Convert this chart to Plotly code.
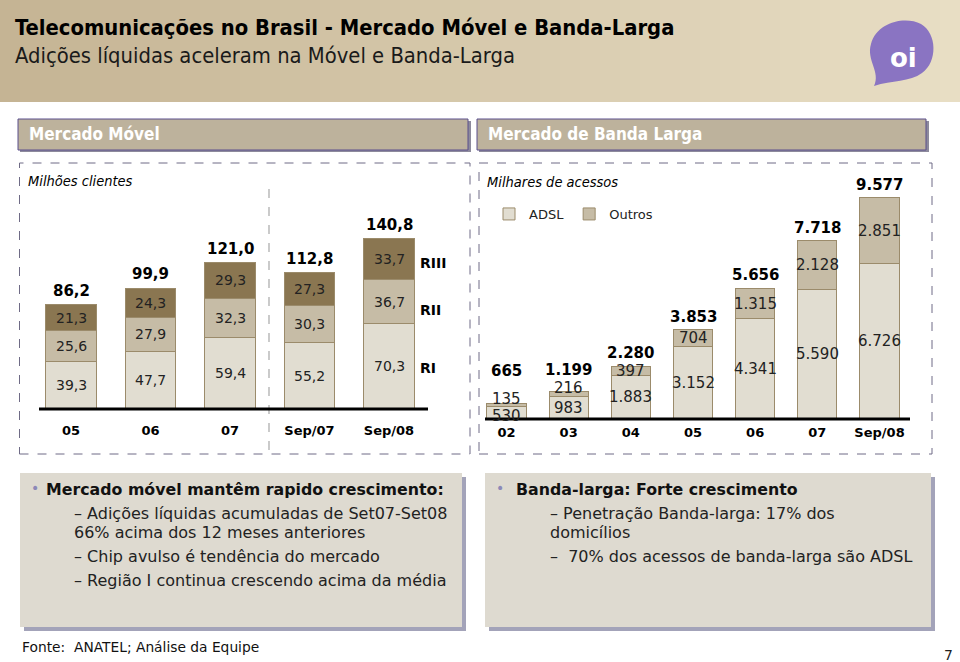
import plotly.graph_objects as go

W, H = 960, 662

# ---------------- DATA ----------------
mov_cats = ["05", "06", "07", "Sep/07", "Sep/08"]
mov_RI = [39.3, 47.7, 59.4, 55.2, 70.3]
mov_RII = [25.6, 27.9, 32.3, 30.3, 36.7]
mov_RIII = [21.3, 24.3, 29.3, 27.3, 33.7]
mov_total = [86.2, 99.9, 121.0, 112.8, 140.8]
mov_regions = ["RI", "RII", "RIII"]

bl_cats = ["02", "03", "04", "05", "06", "07", "Sep/08"]
bl_adsl = [530, 983, 1883, 3152, 4341, 5590, 6726]
bl_outros = [135, 216, 397, 704, 1315, 2128, 2851]
bl_total = [665, 1199, 2280, 3853, 5656, 7718, 9577]


def fmt_br(v, dec):
    if dec:
        return f"{v:.1f}".replace(".", ",")
    return f"{int(v):,}".replace(",", ".")


# ---------------- helpers ----------------
def px(x):
    return x / W


def py(y):
    return 1 - y / H


FONT = "DejaVu Sans, Verdana, sans-serif"
TFONT = "DejaVu Sans Condensed, DejaVu Sans, sans-serif"

C_RI = "#e1ddd1"
C_RII = "#c6bca6"
C_RIII = "#8a7651"
C_EDGE = "#9b8b6b"

fig = go.Figure()

# --- mobile bars
for vals, col, name in [(mov_RI, C_RI, "RI"), (mov_RII, C_RII, "RII"), (mov_RIII, C_RIII, "RIII")]:
    fig.add_trace(go.Bar(x=mov_cats, y=vals, name=name, marker=dict(color=col, line=dict(color=C_EDGE, width=1)),
                         width=0.63, xaxis="x", yaxis="y", showlegend=False, hoverinfo="skip"))

# --- broadband bars
fig.add_trace(go.Bar(x=bl_cats, y=bl_adsl, name="ADSL", marker=dict(color=C_RI, line=dict(color=C_EDGE, width=1)),
                     width=0.63, xaxis="x2", yaxis="y2", showlegend=True, hoverinfo="skip"))
fig.add_trace(go.Bar(x=bl_cats, y=bl_outros, name="Outros", marker=dict(color=C_RII, line=dict(color=C_EDGE, width=1)),
                     width=0.63, xaxis="x2", yaxis="y2", showlegend=True, hoverinfo="skip"))

shapes = []
ann = []

# ---------- header gradient ----------
c0 = (0xc5, 0xb4, 0x94)
c1 = (0xe8, 0xde, 0xc4)
N = 48
for i in range(N):
    t = i / (N - 1)
    c = tuple(int(round(a + (b - a) * t)) for a, b in zip(c0, c1))
    shapes.append(dict(type="rect", xref="paper", yref="paper", x0=px(i * W / N), x1=px((i + 1) * W / N + 1),
                       y0=py(102), y1=py(0), fillcolor="rgb(%d,%d,%d)" % c, line=dict(width=0), layer="below"))


def path_px(cmds):
    out = []
    for c in cmds:
        if isinstance(c, str):
            out.append(c)
        else:
            out.append("%.5f,%.5f" % (px(c[0]), py(c[1])))
    return " ".join(out)


logo = path_px(["M", (874, 86),
                "C", (881, 72), (866, 60), (871, 44),
                "C", (877, 22), (905, 16), (921, 24),
                "C", (937, 33), (938, 62), (922, 73),
                "C", (910, 82), (892, 80), (874, 86), "Z"])
shapes.append(dict(type="path", xref="paper", yref="paper", path=logo, fillcolor="#8a74c2", line=dict(width=0)))
ann.append(dict(text="<b>oi</b>", x=px(903), y=py(58), xref="paper", yref="paper", showarrow=False,
                xanchor="center", yanchor="middle",
                font=dict(family="Verdana, DejaVu Sans, sans-serif", size=26, color="white")))

ann.append(dict(text="<b>Telecomunicações no Brasil - Mercado Móvel e Banda-Larga</b>", x=px(13), y=py(27),
                xref="paper", yref="paper", xanchor="left", yanchor="middle", showarrow=False,
                font=dict(family=TFONT, size=21.8, color="black")))
ann.append(dict(text="Adições líquidas aceleram na Móvel e Banda-Larga", x=px(13), y=py(56),
                xref="paper", yref="paper", xanchor="left", yanchor="middle", showarrow=False,
                font=dict(family=TFONT, size=21.8, color="#1a1a1a")))

# ---------- panel headers ----------
for (x0, x1, label) in [(18, 468, "Mercado Móvel"), (477, 926, "Mercado de Banda Larga")]:
    shapes.append(dict(type="rect", xref="paper", yref="paper", x0=px(x0 + 2), x1=px(x1 + 3), y0=py(152), y1=py(121),
                       fillcolor="#8d8a9c", line=dict(width=0)))
    shapes.append(dict(type="rect", xref="paper", yref="paper", x0=px(x0), x1=px(x1), y0=py(150), y1=py(119),
                       fillcolor="#bdb29c", line=dict(color="#5a4e8c", width=1)))
    ann.append(dict(text="<b>" + label + "</b>", x=px(x0 + 9), y=py(134), xref="paper", yref="paper",
                    xanchor="left", yanchor="middle", showarrow=False,
                    font=dict(family=TFONT, size=17, color="white")))

# ---------- dashed chart boxes ----------
for (x0, x1) in [(19.5, 470), (479, 932)]:
    shapes.append(dict(type="rect", xref="paper", yref="paper", x0=px(x0), x1=px(x1), y0=py(454), y1=py(163),
                       line=dict(color="#6f6b86", width=1, dash="dash"), fillcolor="rgba(0,0,0,0)"))

ann.append(dict(text="<i>Milhões clientes</i>", x=px(26), y=py(181), xref="paper", yref="paper",
                xanchor="left", yanchor="middle", showarrow=False, font=dict(family=TFONT, size=14.5, color="black")))
ann.append(dict(text="<i>Milhares de acessos</i>", x=px(485), y=py(182), xref="paper", yref="paper",
                xanchor="left", yanchor="middle", showarrow=False, font=dict(family=TFONT, size=14.5, color="black")))

# separator between yearly and Sep data
shapes.append(dict(type="line", xref="paper", yref="paper", x0=px(269), x1=px(269), y0=py(450), y1=py(185),
                   line=dict(color="#a8a8a8", width=1.2, dash="dash")))

# baselines
shapes.append(dict(type="line", xref="paper", yref="paper", x0=px(39), x1=px(428), y0=py(409), y1=py(409),
                   line=dict(color="black", width=3)))
shapes.append(dict(type="line", xref="paper", yref="paper", x0=px(485), x1=px(910), y0=py(419), y1=py(419),
                   line=dict(color="black", width=3)))

# ---------- mobile labels ----------
for i, c in enumerate(mov_cats):
    base = 0
    for v in (mov_RI[i], mov_RII[i], mov_RIII[i]):
        ann.append(dict(text=fmt_br(v, True), x=i, y=base + v / 2, xref="x", yref="y", showarrow=False,
                        font=dict(family=FONT, size=14, color="#222222")))
        base += v
    ann.append(dict(text="<b>" + fmt_br(mov_total[i], True) + "</b>", x=i, y=base, xref="x", yref="y",
                    yanchor="bottom", yshift=3, showarrow=False, font=dict(family=FONT, size=15, color="black")))

# region labels at right of last bar
last = len(mov_cats) - 1
base = 0
mids = []
for v in (mov_RI[last], mov_RII[last], mov_RIII[last]):
    mids.append(base + v / 2)
    base += v
for name, m, shift in zip(mov_regions, mids, [-2, -8, -4]):
    ann.append(dict(text="<b>" + name + "</b>", x=last, y=m, xref="x", yref="y", xanchor="left",
                    xshift=29, yshift=shift, showarrow=False, font=dict(family=FONT, size=14, color="black")))

# ---------- broadband labels ----------
small_shift = {0: (6, 20), 1: (6, 8)}  # (outros label lift, total label lift) in px for tiny bars
for i, c in enumerate(bl_cats):
    a, o = bl_adsl[i], bl_outros[i]
    lo, lt = small_shift.get(i, (0, 0))
    ann.append(dict(text=fmt_br(a, False), x=i, y=a / 2, xref="x2", yref="y2", showarrow=False,
                    yshift=-3 if i == 0 else 0, font=dict(family=FONT, size=15, color="#222222")))
    ann.append(dict(text=fmt_br(o, False), x=i, y=a + o / 2, xref="x2", yref="y2", showarrow=False,
                    yshift=lo, font=dict(family=FONT, size=15, color="#222222")))
    ann.append(dict(text="<b>" + fmt_br(bl_total[i], False) + "</b>", x=i, y=bl_total[i], xref="x2", yref="y2",
                    yanchor="bottom", yshift=2 + lt, showarrow=False, font=dict(family=FONT, size=15, color="black")))

# ---------- bottom text boxes ----------
for (x0, x1) in [(20, 462), (485, 931)]:
    shapes.append(dict(type="rect", xref="paper", yref="paper", x0=px(x0 + 4), x1=px(x1 + 4), y0=py(631), y1=py(477),
                       fillcolor="#a3a3b9", line=dict(width=0)))
    shapes.append(dict(type="rect", xref="paper", yref="paper", x0=px(x0), x1=px(x1), y0=py(627), y1=py(473),
                       fillcolor="#dedad0", line=dict(width=0)))


def txt(s, x, y, size=16, color="#111111", bold=False):
    ann.append(dict(text=("<b>%s</b>" % s) if bold else s, x=px(x), y=py(y), xref="paper", yref="paper",
                    xanchor="left", yanchor="middle", showarrow=False,
                    font=dict(family=FONT, size=size, color=color)))


txt("•", 29, 488, size=14, color="#8c89b8")
txt("Mercado móvel mantêm rapido crescimento:", 44, 489, size=15.8, bold=True)
txt("– Adições líquidas acumuladas de Set07-Set08", 72, 513, color="#222222")
txt("66% acima dos 12 meses anteriores", 72, 532, color="#222222")
txt("– Chip avulso é tendência do mercado", 72, 556, color="#222222")
txt("– Região I continua crescendo acima da média", 72, 580, color="#222222")

txt("•", 494, 488, size=14, color="#8c89b8")
txt("Banda-larga: Forte crescimento", 514, 489, size=15.8, bold=True)
txt("– Penetração Banda-larga: 17% dos", 548, 513, color="#222222")
txt("domicílios", 548, 532, color="#222222")
txt("–  70% dos acessos de banda-larga são ADSL", 548, 556, color="#222222")

txt("Fonte:  ANATEL; Análise da Equipe", 20, 647, size=13.8, color="#111111")
ann.append(dict(text="7", x=px(955), y=py(655), xref="paper", yref="paper", xanchor="right", yanchor="middle",
                showarrow=False, font=dict(family=FONT, size=14, color="#222222")))

axis_common = dict(showgrid=False, zeroline=False, showline=False, ticks="", fixedrange=True)

fig.update_layout(
    width=W, height=H, margin=dict(l=0, r=0, t=0, b=0),
    paper_bgcolor="white", plot_bgcolor="rgba(0,0,0,0)",
    barmode="stack", bargap=0.37,
    font=dict(family=FONT),
    xaxis=dict(domain=[px(31.25), px(428.75)], anchor="y", type="category", range=[-0.5, 4.5],
               tickfont=dict(family=FONT, size=13, color="black", weight="bold"), ticklabelstandoff=12, **axis_common),
    yaxis=dict(domain=[py(409), py(180)], anchor="x", range=[0, 229 / 1.21], showticklabels=False, **axis_common),
    xaxis2=dict(domain=[px(475.4), px(910.6)], anchor="y2", type="category", range=[-0.5, 6.5],
                tickfont=dict(family=FONT, size=13, color="black", weight="bold"), ticklabelstandoff=4, **axis_common),
    yaxis2=dict(domain=[py(419), py(190)], anchor="x2", range=[0, 229 / 0.0231], showticklabels=False, **axis_common),
    legend=dict(orientation="h", x=px(489), y=py(199), xanchor="left", yanchor="top",
                font=dict(family=FONT, size=13, color="#222222"), bgcolor="rgba(0,0,0,0)",
                traceorder="normal", itemclick=False, itemdoubleclick=False),
    shapes=shapes, annotations=ann, showlegend=True,
)

fig.write_html("out.html", config={"displayModeBar": False},
               post_script="document.body.style.margin='0';document.body.style.overflow='hidden';")
